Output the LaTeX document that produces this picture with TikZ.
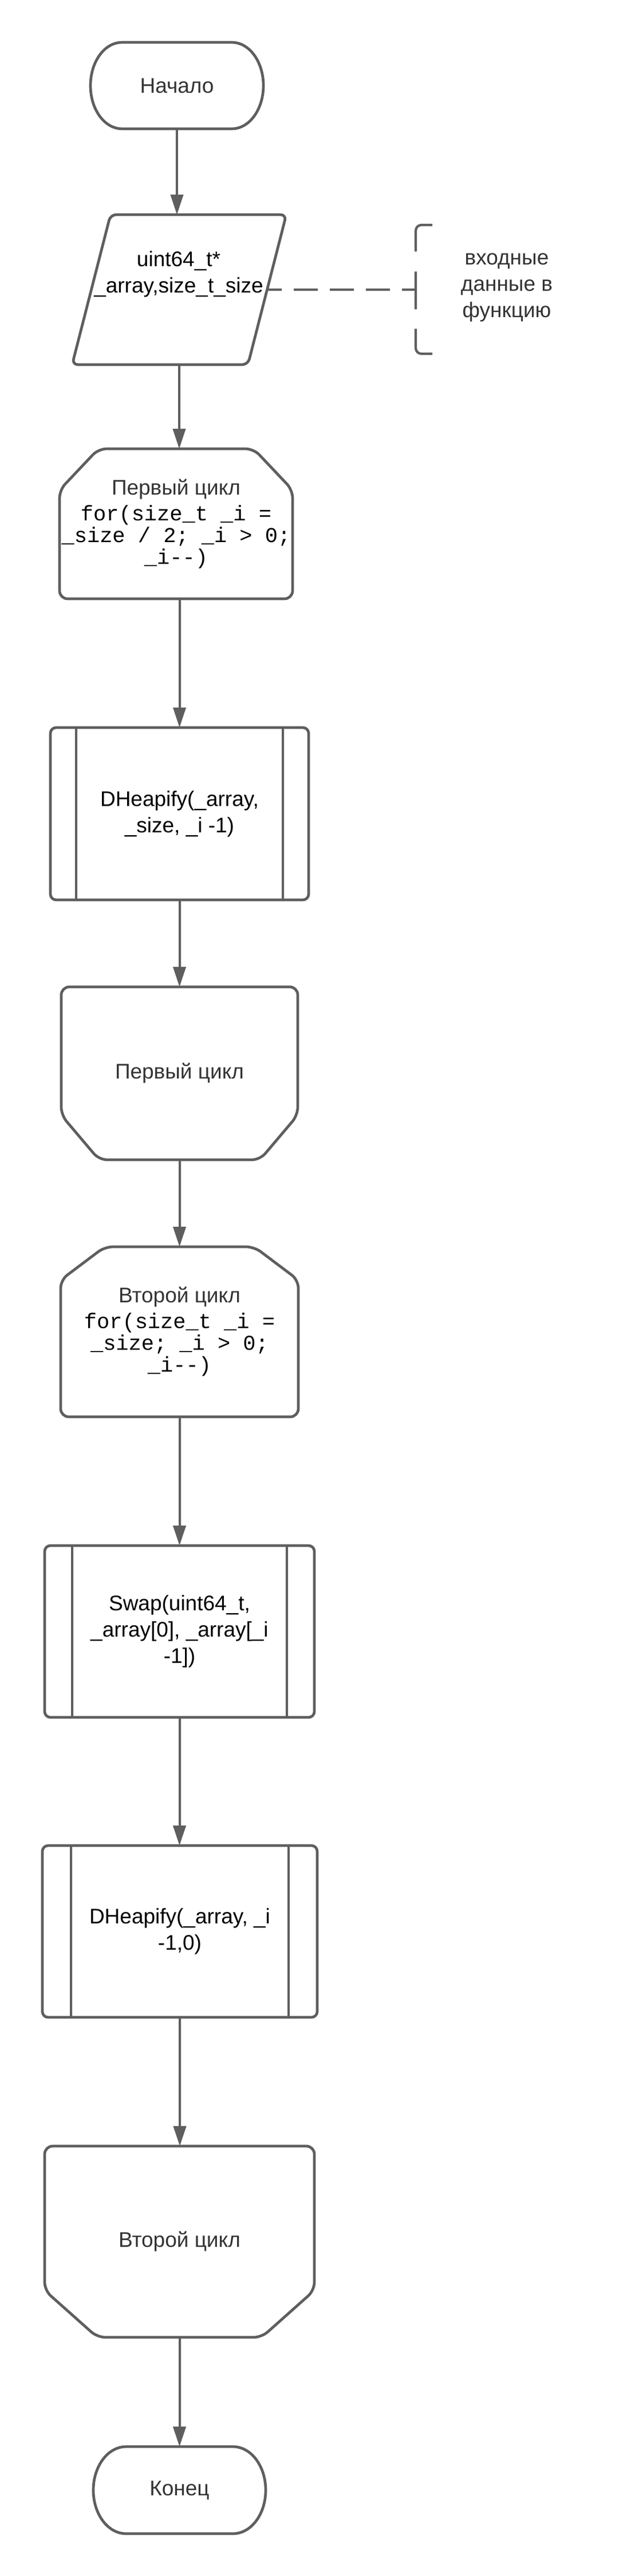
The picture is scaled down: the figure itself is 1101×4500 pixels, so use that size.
\documentclass[tikz,border=0pt]{standalone}
\usepackage{fontspec}
\setmainfont{Liberation Sans}
\newfontfamily\codefont{Liberation Mono}
\usetikzlibrary{arrows.meta,calc}
\definecolor{edge}{HTML}{5E5E5E}
\definecolor{txtgray}{HTML}{333333}
\newcommand{\sansfs}{\fontsize{37}{46}\selectfont}
\newcommand{\codefs}{\codefont\fontsize{37}{38}\selectfont}
\begin{document}
\begin{tikzpicture}[x=1pt,y=1pt,
  frame/.style={draw=none, inner sep=0pt, outer sep=0pt, text=black, font=\sansfs, align=center},
  codebox/.style={frame, font=\fontsize{37}{38}\selectfont},
  outline/.style={draw=edge, line width=4.7pt, line join=round, rounded corners=10pt},
  chamf/.style={outline, rounded corners=14pt},
  flow/.style={draw=edge, line width=4pt, -{Triangle[length=35pt,width=22pt]}},
  note/.style={draw=edge, line width=4.2pt}]
\fill[white] (0,0) rectangle (1101,-4500);
\useasboundingbox (0,0) rectangle (1101,-4500);

% nodes
\node[frame, minimum width=302pt, minimum height=151pt, text=txtgray] (start) at (309,-149.5) {Начало};
\node[frame, minimum width=374pt, minimum height=262pt] (para) at (313,-506) {};
\node[frame] (parat) at (312,-479) {uint64\_t*\\\_array,size\_t\_size};
\node[frame, text=txtgray] (ann) at (885,-502) {входные\\данные в\\функцию};
\coordinate (brk) at (726,-506);
\coordinate (pr) at ($(para.east)+(-33.5,0)$);
\node[codebox, minimum width=407pt, minimum height=262pt] (loop1) at (307.5,-915)
  {{\color{txtgray}Первый цикл}\\[7pt]{\codefs for(size\_t \_i =}\\{\codefs \_size / 2; \_i > 0;}\\{\codefs \_i-{}-)}};
\node[frame, minimum width=451pt, minimum height=301pt] (dh1) at (313.5,-1421.5) {DHeapify(\_array,\\\_size, \_i -1)};
\node[frame, minimum width=413pt, minimum height=302pt, text=txtgray] (le1) at (313.5,-1875) {Первый цикл};
\node[codebox, minimum width=415pt, minimum height=297pt] (loop2) at (313.5,-2326.5)
  {{\color{txtgray}Второй цикл}\\[7pt]{\codefs for(size\_t \_i =}\\{\codefs \_size; \_i > 0;}\\{\codefs \_i-{}-)}};
\node[frame, minimum width=471pt, minimum height=300pt] (swap) at (313.5,-2850) {Swap(uint64\_t,\\\_array[0], \_array[\_i\\-1])};
\node[frame, minimum width=480pt, minimum height=300pt] (dh2) at (314,-3374) {DHeapify(\_array, \_i\\-1,0)};
\node[frame, minimum width=471pt, minimum height=334pt, text=txtgray] (le2) at (313.5,-3916) {Второй цикл};
\node[frame, minimum width=301pt, minimum height=152pt, text=txtgray] (end) at (313.5,-4350) {Конец};

% outlines
\draw[outline, rounded corners=0pt] ($(start.north west)+(55,0)$) -- ($(start.north east)+(-55,0)$)
  arc[start angle=90, end angle=-90, x radius=55, y radius=75.5]
  -- ($(start.south west)+(55,0)$)
  arc[start angle=270, end angle=90, x radius=55, y radius=75.5] -- cycle;
\draw[outline, rounded corners=0pt] ($(end.north west)+(57,0)$) -- ($(end.north east)+(-57,0)$)
  arc[start angle=90, end angle=-90, x radius=57, y radius=76]
  -- ($(end.south west)+(57,0)$)
  arc[start angle=270, end angle=90, x radius=57, y radius=76] -- cycle;
\draw[outline] ($(para.north west)+(67,0)$) -- (para.north east) -- ($(para.south east)+(-67,0)$) -- (para.south west) -- cycle;
\draw[chamf] (loop1.south west) -- ($(loop1.north west)+(0,-72)$) -- ($(loop1.north west)+(68,0)$)
  -- ($(loop1.north east)+(-68,0)$) -- ($(loop1.north east)+(0,-72)$) -- (loop1.south east) -- cycle;
\draw[chamf] (loop2.south west) -- ($(loop2.north west)+(0,-58)$) -- ($(loop2.north west)+(77,0)$)
  -- ($(loop2.north east)+(-77,0)$) -- ($(loop2.north east)+(0,-58)$) -- (loop2.south east) -- cycle;
\draw[chamf] (le1.north west) -- ($(le1.south west)+(0,78)$) -- ($(le1.south west)+(66,0)$)
  -- ($(le1.south east)+(-66,0)$) -- ($(le1.south east)+(0,78)$) -- (le1.north east) -- cycle;
\draw[chamf] (le2.north west) -- ($(le2.south west)+(0,82)$) -- ($(le2.south west)+(92,0)$)
  -- ($(le2.south east)+(-92,0)$) -- ($(le2.south east)+(0,82)$) -- (le2.north east) -- cycle;
\foreach \n/\d in {dh1/45, swap/48, dh2/50}{
  \draw[outline] (\n.north west) rectangle (\n.south east);
  \draw[outline, rounded corners=0pt] ($(\n.north west)+(\d,0)$) -- ($(\n.south west)+(\d,0)$);
  \draw[outline, rounded corners=0pt] ($(\n.north east)+(-\d,0)$) -- ($(\n.south east)+(-\d,0)$);
}

% annotation
\draw[note, rounded corners=10pt, dash pattern=on 71pt off 35pt on 66pt off 34pt on 200pt]
  ($(brk)+(29,113)$) -- ($(brk)+(0,113)$) -- ($(brk)+(0,-112)$) -- ($(brk)+(29,-112)$);
\draw[note, dash pattern=on 42pt off 21pt, dash phase=17pt] (pr) -- (brk);

% connectors
\draw[flow] (start.south) -- (start.south |- para.north);
\draw[flow] (para.south) -- (para.south |- loop1.north);
\draw[flow] (dh1.north |- loop1.south) -- (dh1.north);
\draw[flow] (dh1.south) -- (dh1.south |- le1.north);
\draw[flow] (le1.south) -- (le1.south |- loop2.north);
\draw[flow] (loop2.south) -- (loop2.south |- swap.north);
\draw[flow] (swap.south) -- (swap.south |- dh2.north);
\draw[flow] (dh2.south) -- (dh2.south |- le2.north);
\draw[flow] (le2.south) -- (le2.south |- end.north);
\end{tikzpicture}
\end{document}
